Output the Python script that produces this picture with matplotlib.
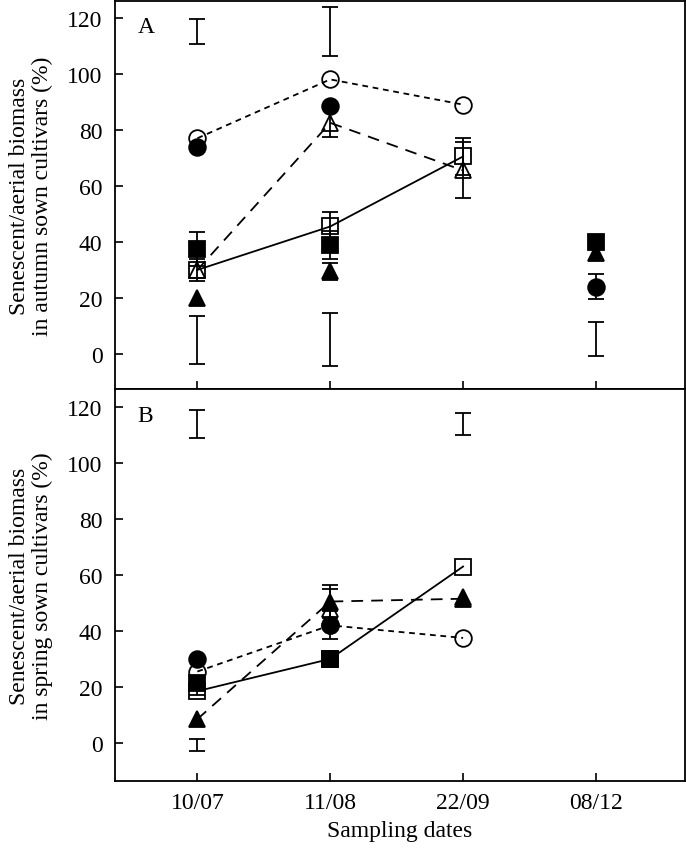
import numpy as np
import matplotlib
matplotlib.use('Agg')
import matplotlib.pyplot as plt

plt.rcParams['font.family'] = ['Liberation Serif', 'DejaVu Serif']

dates = ['10/07', '11/08', '22/09', '08/12']
nan = np.nan

# Panel A - autumn sown cultivars
a_open_circle = [77, 98, 89, nan]
a_open_square = [30, 45.5, 70.5, nan]
a_open_square_err = [4, 5, 6.5, nan]
a_open_tri = [30, 82.5, 65.5, nan]
a_open_tri_err = [nan, 5, 10, nan]
a_fill_circle = [74, 88.5, nan, 24]
a_fill_circle_err = [nan, nan, nan, 4.5]
a_fill_square = [37.5, 39, nan, 40]
a_fill_square_err = [6, 5, nan, nan]
a_fill_tri = [20, 29.5, nan, 36]
a_fill_tri_err = [nan, 3, nan, nan]
# LSD bars: (date index, centre, half length)
a_lsd = [(0, 115.2, 4.5), (0, 5, 8.5), (1, 115, 8.7), (1, 5.2, 9.4), (3, 5.3, 6)]

# Panel B - spring sown cultivars
b_open_circle = [25.5, 42, 37.5, nan]
b_open_square = [18.5, 30, 63, nan]
b_open_square_err = [1.5, nan, nan, nan]
b_open_tri = [nan, 48, 52, nan]
b_open_tri_err = [nan, 7, nan, nan]
b_fill_circle = [30, 42, nan, nan]
b_fill_circle_err = [nan, 5, nan, nan]
b_fill_square = [21.5, 30, nan, nan]
b_fill_tri = [8.5, 50.5, 51.5, nan]
b_fill_tri_err = [nan, 6, nan, nan]
b_lsd = [(0, 114, 5), (2, 114, 4), (0, -0.7, 2.2)]

x = np.arange(len(dates))
ms = 12
lw = 1.3
cap = 5.8
fs = 17
short_dash = (3.2, 2.6)
long_dash = (6.5, 4.5)


def plot_series(ax, y, err, marker, filled, line=None):
    y = np.array(y, dtype=float)
    mfc = 'black' if filled else 'none'
    if err is not None:
        e = np.array(err, dtype=float)
        ax.errorbar(x, y, yerr=e, fmt='none', ecolor='black', elinewidth=lw,
                    capsize=cap, capthick=lw, zorder=3)
    if line is not None:
        ok = ~np.isnan(y)
        if line == 'solid':
            ax.plot(x[ok], y[ok], color='black', lw=lw, zorder=2)
        else:
            ax.plot(x[ok], y[ok], color='black', lw=lw, dashes=line, zorder=2)
    ax.plot(x, y, linestyle='none', marker=marker, ms=ms, mfc=mfc, mec='black',
            mew=lw, zorder=4)


def plot_lsd(ax, bars):
    for i, c, h in bars:
        ax.errorbar([x[i]], [c], yerr=[h], fmt='none', ecolor='black', elinewidth=lw,
                    capsize=cap, capthick=lw, zorder=3)


fig = plt.figure(figsize=(6.86, 8.53), dpi=100)
axA = fig.add_axes([0.1676, 0.5428, 0.8309, 0.4549])
axB = fig.add_axes([0.1676, 0.0832, 0.8309, 0.4596])

plot_series(axA, a_open_circle, None, 'o', False, short_dash)
plot_series(axA, a_open_square, a_open_square_err, 's', False, 'solid')
plot_series(axA, a_open_tri, a_open_tri_err, '^', False, long_dash)
plot_series(axA, a_fill_circle, a_fill_circle_err, 'o', True)
plot_series(axA, a_fill_square, a_fill_square_err, 's', True)
plot_series(axA, a_fill_tri, a_fill_tri_err, '^', True)
plot_lsd(axA, a_lsd)

plot_series(axB, b_open_circle, None, 'o', False, short_dash)
plot_series(axB, b_open_square, b_open_square_err, 's', False, 'solid')
plot_series(axB, b_open_tri, b_open_tri_err, '^', False)
plot_series(axB, b_fill_tri, b_fill_tri_err, '^', True, long_dash)
plot_series(axB, b_fill_circle, b_fill_circle_err, 'o', True)
plot_series(axB, b_fill_square, None, 's', True)
plot_lsd(axB, b_lsd)

for ax, lab, ylim in [(axA, 'A', (-12.5, 126)), (axB, 'B', (-13.6, 126.4))]:
    ax.set_xlim(-0.62, 3.67)
    ax.set_ylim(*ylim)
    ax.set_yticks(np.arange(0, 121, 20))
    ax.set_xticks(x)
    ax.tick_params(direction='in', length=6, width=1.2, labelsize=fs)
    ax.tick_params(axis='y', pad=9)
    ax.tick_params(axis='x', top=False)
    ax.tick_params(axis='y', right=False)
    for s in ax.spines.values():
        s.set_linewidth(1.3)
    ax.text(0.04, 0.96, lab, transform=ax.transAxes, fontsize=fs, va='top', ha='left')

axA.set_xticklabels([])
axB.set_xticklabels(dates)
axB.tick_params(axis='x', pad=8)

axA.set_ylabel('Senescent/aerial biomass\nin autumn sown cultivars (%)', fontsize=fs,
               linespacing=1.15, labelpad=10)
axB.set_ylabel('Senescent/aerial biomass\nin spring sown cultivars (%)', fontsize=fs,
               linespacing=1.15, labelpad=10)
axB.set_xlabel('Sampling dates', fontsize=fs, labelpad=5)

fig.savefig('out.png', dpi=100)
